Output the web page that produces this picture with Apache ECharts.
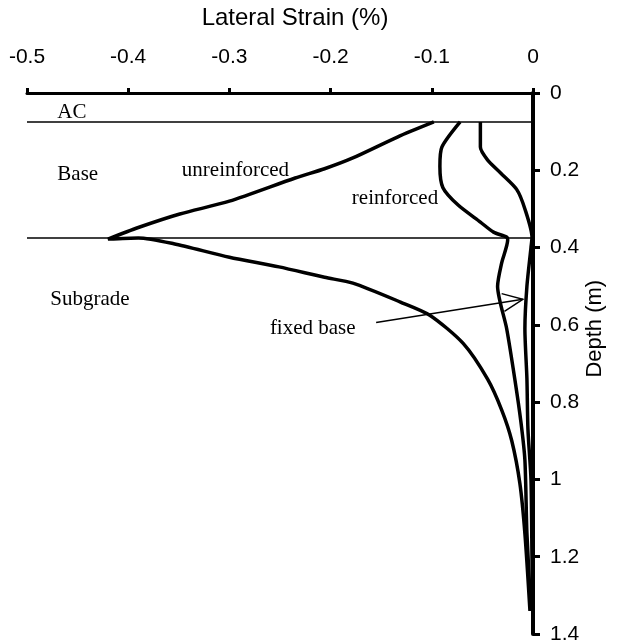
<!DOCTYPE html>
<html>
<head>
<meta charset="utf-8">
<script src="https://cdn.jsdelivr.net/npm/echarts@6/dist/echarts.min.js"></script>
<style>
  html, body { margin: 0; padding: 0; background: #fff; }
  #chart { width: 619px; height: 643px; }
</style>
</head>
<body>
<div id="chart"></div>
<script>
// Lateral strain (%) against depth (m) for three pavement sections
const strainTicks = [-0.5, -0.4, -0.3, -0.2, -0.1, 0];
const depthTicks = [0, 0.2, 0.4, 0.6, 0.8, 1, 1.2, 1.4];

const unreinforcedStrain = [-0.098, -0.134, -0.178, -0.206, -0.235, -0.30, -0.349, -0.39, -0.42, -0.39, -0.355, -0.30, -0.251, -0.206, -0.178, -0.131, -0.102, -0.069, -0.045, -0.031, -0.021, -0.013, -0.008, -0.003];
const unreinforcedDepth  = [0.075, 0.114, 0.168, 0.196, 0.22, 0.28, 0.313, 0.348, 0.378, 0.375, 0.39, 0.425, 0.45, 0.477, 0.492, 0.541, 0.575, 0.648, 0.74, 0.82, 0.90, 1.01, 1.14, 1.34];

const reinforcedStrain = [-0.072, -0.090, -0.092, -0.089, -0.074, -0.052, -0.039, -0.026, -0.025, -0.031, -0.035, -0.026, -0.018, -0.012, -0.008, -0.006, -0.002];
const reinforcedDepth  = [0.075, 0.14, 0.19, 0.245, 0.29, 0.334, 0.36, 0.373, 0.38, 0.44, 0.50, 0.61, 0.74, 0.85, 0.95, 1.14, 1.34];

const fixedBaseStrain = [-0.052, -0.052, -0.045, -0.032, -0.016, -0.008, -0.001, -0.002, -0.006, -0.008, -0.006, -0.005, -0.002, -0.001, 0];
const fixedBaseDepth  = [0.075, 0.14, 0.173, 0.207, 0.25, 0.30, 0.373, 0.40, 0.50, 0.61, 0.74, 0.87, 1.0, 1.2, 1.36];

// Layer interfaces: bottom of AC, bottom of base
const layerDepths = [0.075, 0.375];

// Layer names and curve labels, anchored (left, middle) in data units [strain, depth]
const layerLabels = ['AC', 'Base', 'Subgrade'];
const layerLabelPos = [[-0.47, 0.05], [-0.47, 0.21], [-0.477, 0.534]];
const curveLabels = ['unreinforced', 'reinforced', 'fixed base'];
const curveLabelPos = [[-0.347, 0.20], [-0.179, 0.272], [-0.26, 0.609]];
// Pointer from the "fixed base" label to its curve
const pointerFrom = [-0.155, 0.594];
const pointerTo = [-0.01, 0.534];

const pair = (xs, ys) => xs.map((x, i) => [x, ys[i]]);
const fmt = v => String(Math.round(v * 10) / 10);

const curveStyle = { color: '#000', width: 3.5 };
const curve = (name, xs, ys) => ({
  name, type: 'line', data: pair(xs, ys), showSymbol: false, smooth: 0.25,
  lineStyle: curveStyle, z: 3
});

const layerSeries = layerDepths.map((d, i) => ({
  name: 'layer' + i, type: 'line', data: [[-0.5, d], [0, d]], showSymbol: false,
  lineStyle: { color: '#000', width: 1.5 }, z: 2
}));

const sans = 'Liberation Sans';
const chart = echarts.init(document.getElementById('chart'));
chart.setOption({
  animation: false,
  grid: { left: 27, right: 86, top: 93, bottom: 9, outerBoundsMode: 'none' },
  xAxis: {
    type: 'value', position: 'top', min: -0.5, max: 0, interval: 0.1,
    name: 'Lateral Strain (%)', nameLocation: 'middle', nameGap: 63,
    nameTextStyle: { fontFamily: sans, fontSize: 24, color: '#000', padding: [0, 0, 0, 30] },
    axisLine: { lineStyle: { color: '#000', width: 3 } },
    axisTick: { show: true, length: 5, lineStyle: { color: '#000', width: 3 } },
    axisLabel: { fontFamily: sans, fontSize: 21, color: '#000', margin: 25,
      formatter: v => strainTicks.some(t => Math.abs(t - v) < 1e-9) ? fmt(v) : '' },
    splitLine: { show: false }
  },
  yAxis: {
    type: 'value', position: 'right', inverse: true, min: 0, max: 1.4, interval: 0.2,
    axisLine: { onZero: false, lineStyle: { color: '#000', width: 4 } },
    axisTick: { show: true, length: 7, lineStyle: { color: '#000', width: 3 } },
    axisLabel: { fontFamily: sans, fontSize: 21, color: '#000', margin: 17,
      formatter: v => depthTicks.some(t => Math.abs(t - v) < 1e-9) ? fmt(v) : '' },
    splitLine: { show: false }
  },
  series: [
    ...layerSeries,
    curve('unreinforced', unreinforcedStrain, unreinforcedDepth),
    curve('reinforced', reinforcedStrain, reinforcedDepth),
    curve('fixed base', fixedBaseStrain, fixedBaseDepth)
  ]
});

// Annotations placed through the axis scales
function drawAnnotations() {
  const px = p => chart.convertToPixel({ gridIndex: 0 }, p);
  const serif = { fontFamily: 'Liberation Serif', fontSize: 21, fill: '#000' };
  const texts = layerLabels.concat(curveLabels).map((t, i) => {
    const p = px(layerLabelPos.concat(curveLabelPos)[i]);
    return { type: 'text', x: p[0], y: p[1],
      style: Object.assign({ text: t, textAlign: 'left', textVerticalAlign: 'middle' }, serif) };
  });
  // Depth axis title, set a little above the axis middle
  const titleAt = px([0, 0.61]);
  const depthTitle = { type: 'text', x: titleAt[0] + 62, y: titleAt[1], rotation: Math.PI / 2,
    style: { text: 'Depth (m)', fontFamily: sans, fontSize: 22, fill: '#000',
      textAlign: 'center', textVerticalAlign: 'middle' } };
  const a = px(pointerFrom), b = px(pointerTo);
  const ang = Math.atan2(b[1] - a[1], b[0] - a[0]);
  const head = 22, spread = 0.42;
  const h1 = [b[0] - head * Math.cos(ang - spread), b[1] - head * Math.sin(ang - spread)];
  const h2 = [b[0] - head * Math.cos(ang + spread), b[1] - head * Math.sin(ang + spread)];
  const arrow = [
    { type: 'polyline', shape: { points: [a, b] }, style: { stroke: '#000', lineWidth: 1.5, fill: null } },
    { type: 'polyline', shape: { points: [h1, b, h2] }, style: { stroke: '#000', lineWidth: 1.5, fill: null } }
  ];
  chart.setOption({ graphic: texts.concat([depthTitle], arrow) });
}
drawAnnotations();
</script>
</body>
</html>
